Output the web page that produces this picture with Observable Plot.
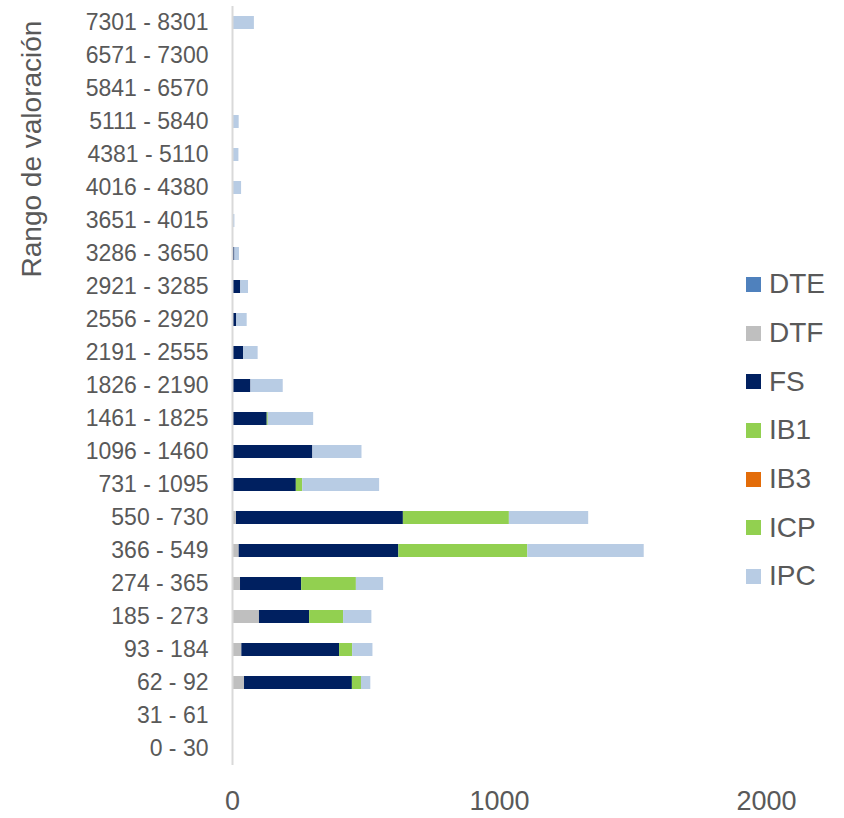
<!DOCTYPE html>
<html>
<head>
<meta charset="utf-8">
<script src="https://cdn.jsdelivr.net/npm/d3@7"></script>
<script src="https://cdn.jsdelivr.net/npm/@observablehq/plot@0.6"></script>
<style>
  body { margin: 0; background: #fff; font-family: "Liberation Sans", Arial, sans-serif; }
  #wrap { position: relative; width: 844px; height: 818px; }
  #ytitle { position: absolute; left: 32px; top: 149px; transform: translate(-50%, -50%) rotate(-90deg);
            font-size: 28px; color: #595959; white-space: nowrap; }
  #legend { position: absolute; left: 746px; top: 260px; }
  .li { display: flex; align-items: center; height: 48.7px; font-size: 28px; color: #595959; }
  .sw { width: 15px; height: 15px; margin-right: 8px; }
</style>
</head>
<body>
<div id="wrap">
  <div id="chart"></div>
  <div id="ytitle">Rango de valoración</div>
  <div id="legend"></div>
</div>
<script>
const categories = ["7301 - 8301","6571 - 7300","5841 - 6570","5111 - 5840","4381 - 5110","4016 - 4380","3651 - 4015","3286 - 3650","2921 - 3285","2556 - 2920","2191 - 2555","1826 - 2190","1461 - 1825","1096 - 1460","731 - 1095","550 - 730","366 - 549","274 - 365","185 - 273","93 - 184","62 - 92","31 - 61","0 - 30"];
const seriesNames = ["DTE","DTF","FS","IB1","IB3","ICP","IPC"];
const seriesColors = ["#4f81bd","#bfbfbf","#002060","#92d050","#e36c09","#92d050","#b8cce4"];
const DTE = [0,0,0,0,0,0,0,0,0,0,0,0,0,0,0,0,0,0,0,0,0,0,0];
const DTF = [0,0,0,0,0,0,0,0,0,0,0,0,0,0,0,15,25,30,101,35,45,0,0];
const FS  = [0,0,0,0,0,0,0,9,31,16,42,69,130,301,239,625,598,229,188,366,404,0,0];
const IB1 = [0,0,0,0,0,0,0,0,0,0,0,0,4,0,24,0,0,0,0,0,0,0,0];
const IB3 = [0,0,0,0,0,0,0,0,0,0,0,0,0,0,0,0,0,0,0,0,0,0,0];
const ICP = [0,0,0,0,0,0,0,0,0,0,0,0,0,0,0,397,483,205,127,49,34,0,0];
const IPC = [82,0,0,25,24,34,9,17,29,39,54,121,170,184,288,297,436,102,106,76,35,0,0];
const xTicks = [0, 1000, 2000];

const seriesValues = [DTE, DTF, FS, IB1, IB3, ICP, IPC];
const rows = [];
seriesNames.forEach((s, si) => {
  categories.forEach((c, ci) => rows.push({cat: c, series: s, value: seriesValues[si][ci]}));
});

const chart = Plot.plot({
  width: 844,
  height: 818,
  marginLeft: 232,
  marginRight: 78,
  marginTop: 6,
  marginBottom: 53,
  style: {fontFamily: "Liberation Sans, Arial, sans-serif", color: "#595959", background: "#fff"},
  x: {domain: [0, 2000], ticks: xTicks},
  y: {domain: categories, paddingInner: 0.6, paddingOuter: 0.2, align: 0.5},
  color: {domain: seriesNames, range: seriesColors},
  marks: [
    Plot.barX(rows, Plot.stackX({x: "value", y: "cat", fill: "series", z: "series", order: seriesNames})),
    Plot.ruleX([0], {stroke: "#d9d9d9", strokeWidth: 2}),
    Plot.axisY({tickSize: 0, tickPadding: 24, fontSize: 23, fill: "#595959", label: null}),
    Plot.axisX({ticks: xTicks, tickSize: 0, tickPadding: 25, fontSize: 27, fill: "#595959", label: null, tickFormat: d => String(d)})
  ]
});
document.getElementById("chart").appendChild(chart);

const legend = document.getElementById("legend");
seriesNames.forEach((s, i) => {
  const d = document.createElement("div");
  d.className = "li";
  d.innerHTML = `<span class="sw" style="background:${seriesColors[i]}"></span><span>${s}</span>`;
  legend.appendChild(d);
});
</script>
</body>
</html>
